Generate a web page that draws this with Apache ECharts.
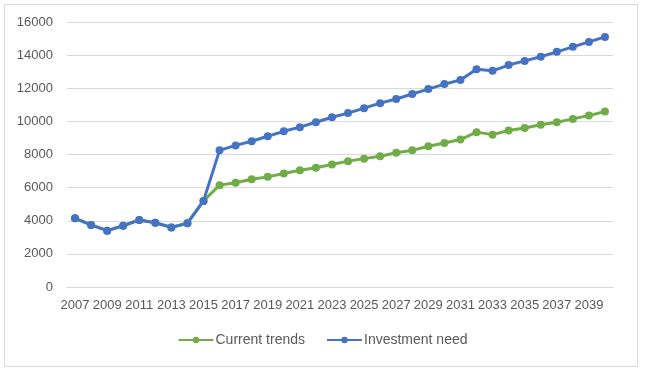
<!DOCTYPE html>
<html><head><meta charset="utf-8">
<script src="https://cdn.jsdelivr.net/npm/echarts@6/dist/echarts.min.js"></script>
<style>html,body{margin:0;padding:0;background:#fff}#c{width:645px;height:372px}</style>
</head><body><div id="c"></div>
<script>
var years = [];
for (var y = 2007; y <= 2040; y++) years.push(String(y));
var currentTrends = [4150,3750,3400,3700,4050,3880,3600,3850,5200,6150,6300,6500,6650,6850,7050,7200,7400,7600,7750,7900,8100,8250,8500,8700,8900,9350,9200,9450,9600,9800,9950,10150,10350,10600];
var investmentNeed = [4150,3750,3400,3700,4050,3880,3600,3850,5200,8250,8550,8800,9100,9400,9650,9950,10250,10500,10800,11100,11350,11650,11950,12250,12500,13150,13050,13400,13650,13900,14200,14500,14800,15100];
var chart = echarts.init(document.getElementById('c'), null, {renderer:'canvas'});
var font = 'Liberation Sans';
chart.setOption({
  animation:false,
  backgroundColor:'#fff',
  graphic:[{type:'rect', shape:{x:4.5,y:4.5,width:633,height:362}, style:{fill:'none', stroke:'#d9d9d9', lineWidth:1}, silent:true}],
  grid:{left:67, right:32, top:22, bottom:85},
  legend:{
    data:['Current trends','Investment need'],
    left:'center', top:328, itemWidth:35, itemHeight:8, itemGap:21,
    textStyle:{color:'#595959', fontFamily:font, fontSize:14, padding:[0,0,0,-3]}
  },
  xAxis:{
    type:'category', data:years, boundaryGap:true,
    axisLine:{lineStyle:{color:'#d9d9d9'}}, axisTick:{show:false},
    axisLabel:{interval:1, color:'#595959', fontFamily:font, fontSize:13, margin:12}
  },
  yAxis:{
    type:'value', min:0, max:16000, interval:2000,
    axisLine:{show:false}, axisTick:{show:false},
    splitLine:{lineStyle:{color:'#d9d9d9'}},
    axisLabel:{color:'#595959', fontFamily:font, fontSize:13, margin:14, formatter:function(v){return String(v);}}
  },
  series:[
    {name:'Current trends', type:'line', data:currentTrends, symbol:'circle', symbolSize:8,
     itemStyle:{color:'#70AD47'}, lineStyle:{color:'#70AD47', width:3}},
    {name:'Investment need', type:'line', data:investmentNeed, symbol:'circle', symbolSize:8,
     itemStyle:{color:'#4472C4'}, lineStyle:{color:'#4472C4', width:3}}
  ]
});
</script></body></html>
